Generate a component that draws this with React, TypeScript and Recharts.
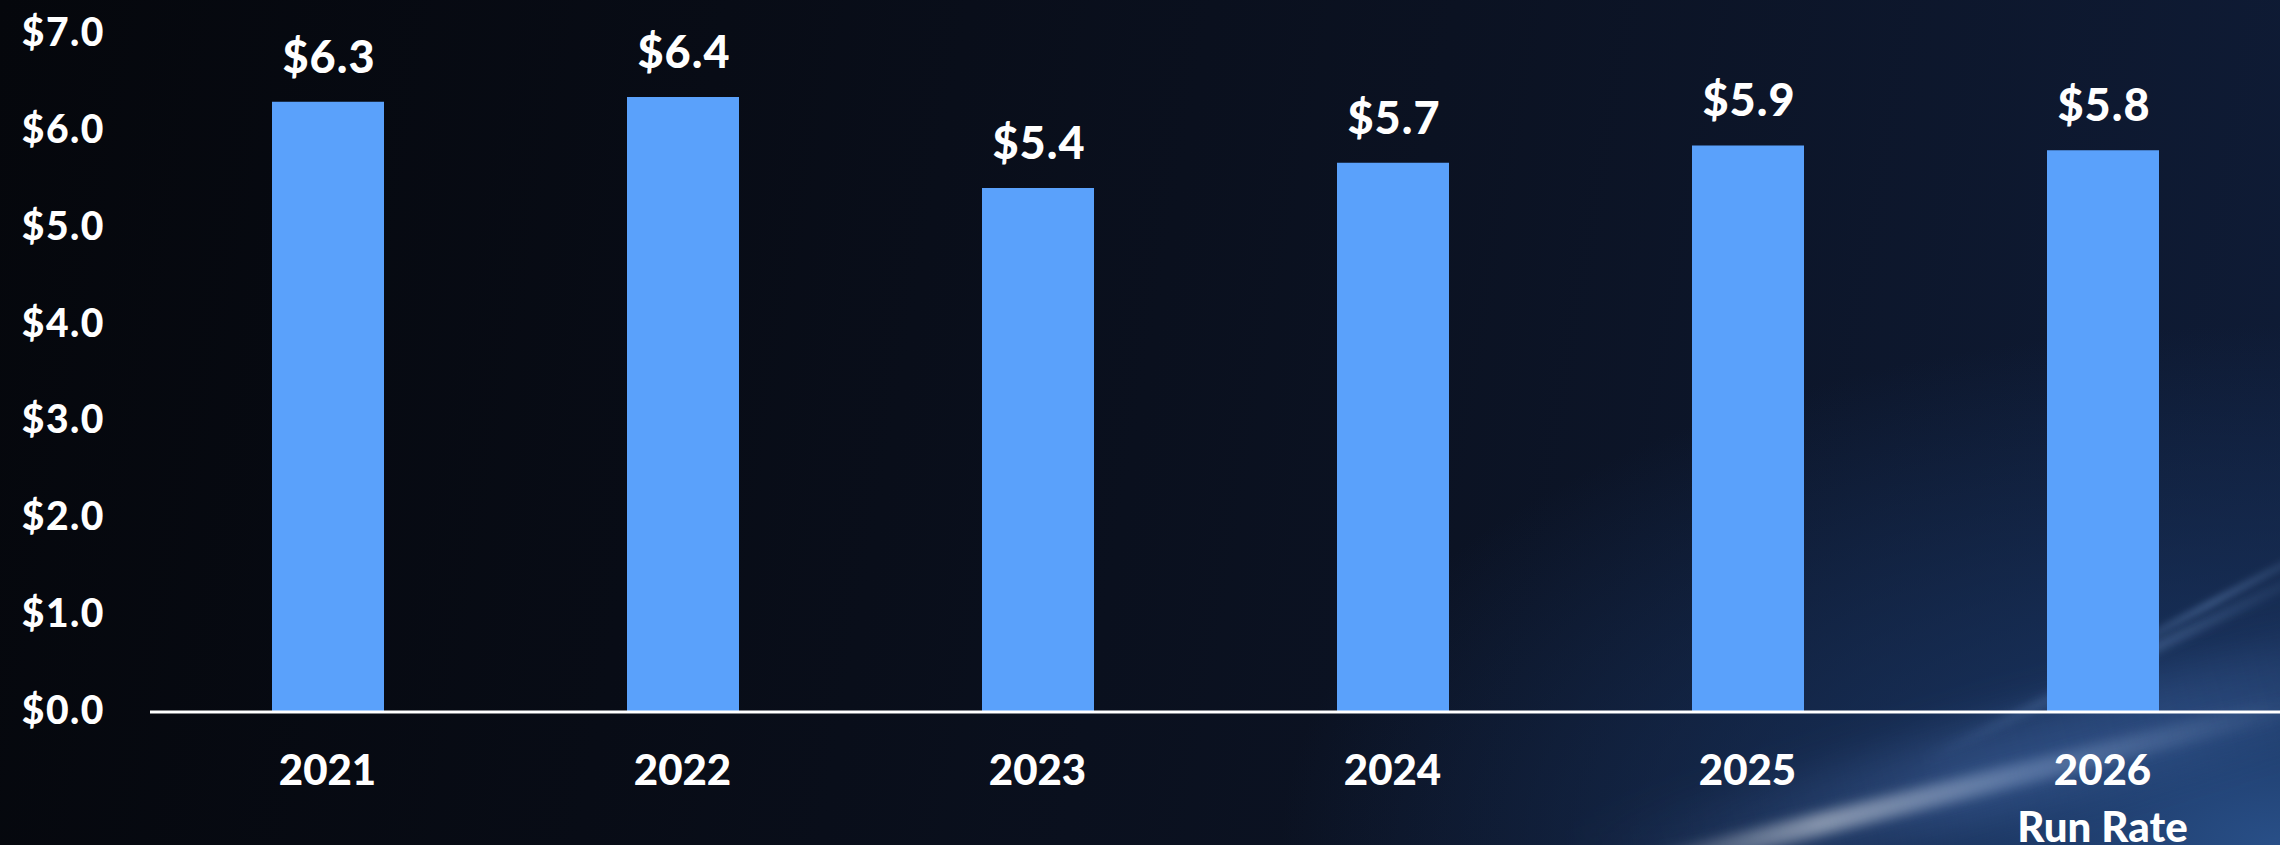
import React from "react";
import { BarChart, Bar, XAxis, YAxis, LabelList } from "recharts";

const categories = ["2021", "2022", "2023", "2024", "2025", "2026"];
const subLabels = ["", "", "", "", "", "Run Rate"];
const values = [6.3, 6.35, 5.41, 5.67, 5.85, 5.8];
const valueLabels = ["$6.3", "$6.4", "$5.4", "$5.7", "$5.9", "$5.8"];
const yTicks = [0, 1, 2, 3, 4, 5, 6, 7];

const data = categories.map((c, i) => ({ cat: c, sub: subLabels[i], value: values[i], label: valueLabels[i] }));

const FONT = "Lato, 'Open Sans', sans-serif";
const WEIGHT = 900;

const YTick = (props: any) => {
  const { x, y, payload } = props;
  return (
    <text x={x} y={y} dx={-45} dy={12} textAnchor="end" fill="#ffffff" fontFamily={FONT} fontWeight={WEIGHT} fontSize={39} letterSpacing={1.5}>
      {`$${Number(payload.value).toFixed(1)}`}
    </text>
  );
};

const XTick = (props: any) => {
  const { x, y, payload, index } = props;
  const sub = subLabels[index] || "";
  return (
    <g>
      <text x={x} y={y} dy={73} textAnchor="middle" fill="#ffffff" fontFamily={FONT} fontWeight={WEIGHT} fontSize={42}>
        {payload.value}
      </text>
      {sub ? (
        <text x={x} y={y} dy={130} textAnchor="middle" fill="#ffffff" fontFamily={FONT} fontWeight={WEIGHT} fontSize={42}>
          {sub}
        </text>
      ) : null}
    </g>
  );
};

const ValueLabel = (props: any) => {
  const { x, y, width, index } = props;
  return (
    <text x={x + width / 2 + 1} y={y} dy={-29} textAnchor="middle" fill="#ffffff" fontFamily={FONT} fontWeight={WEIGHT} fontSize={45} letterSpacing={1}>
      {valueLabels[index]}
    </text>
  );
};

export default function App() {
  return (
    <div
      style={{
        position: "absolute",
        left: 0,
        top: 0,
        width: 2280,
        height: 845,
        overflow: "hidden",
        background:
          "radial-gradient(ellipse 1000px 520px at 2280px 845px, rgba(42,82,140,0.95) 0%, rgba(26,54,100,0.7) 40%, rgba(15,30,60,0) 100%), linear-gradient(100deg, #05070c 0%, #080c16 30%, #0b1222 60%, #0f1c37 100%)",
      }}
    >
      <div style={{ position: "absolute", left: 1560, top: 720, width: 900, height: 90, transform: "rotate(-16deg)", background: "linear-gradient(90deg, rgba(80,120,190,0) 0%, rgba(90,130,200,0.3) 45%, rgba(90,130,200,0.15) 80%, rgba(80,120,190,0) 100%)", filter: "blur(22px)" }} />
      <div style={{ position: "absolute", left: 1600, top: 778, width: 720, height: 22, transform: "rotate(-14deg)", background: "linear-gradient(90deg, rgba(200,205,215,0) 0%, rgba(200,208,220,0.6) 30%, rgba(150,175,215,0.4) 60%, rgba(120,150,210,0) 100%)", filter: "blur(6px)" }} />
      <div style={{ position: "absolute", left: 1900, top: 655, width: 460, height: 10, transform: "rotate(-26deg)", background: "linear-gradient(90deg, rgba(120,160,220,0) 0%, rgba(130,170,225,0.35) 50%, rgba(120,160,220,0) 100%)", filter: "blur(4px)" }} />
      <div style={{ position: "absolute", left: 2050, top: 600, width: 320, height: 8, transform: "rotate(-28deg)", background: "linear-gradient(90deg, rgba(120,160,220,0) 0%, rgba(130,170,225,0.3) 50%, rgba(120,160,220,0) 100%)", filter: "blur(3px)" }} />
      <div style={{ position: "absolute", left: 0, top: 0 }}>
        <BarChart width={2280} height={845} data={data} margin={{ top: 34, right: 0, left: 0, bottom: 0 }}>
          <YAxis
            width={150}
            domain={[0, 7]}
            ticks={yTicks}
            axisLine={false}
            tickLine={false}
            tickSize={0}
            tickMargin={0}
            tick={<YTick />}
            interval={0}
          />
          <XAxis
            dataKey="cat"
            height={133}
            axisLine={{ stroke: "#ffffff", strokeWidth: 3 }}
            tickLine={false}
            tickSize={0}
            tickMargin={0}
            tick={<XTick />}
            interval={0}
          />
          <Bar dataKey="value" fill="#5aa1fb" barSize={112} isAnimationActive={false}>
            <LabelList dataKey="label" content={<ValueLabel />} />
          </Bar>
        </BarChart>
      </div>
    </div>
  );
}
